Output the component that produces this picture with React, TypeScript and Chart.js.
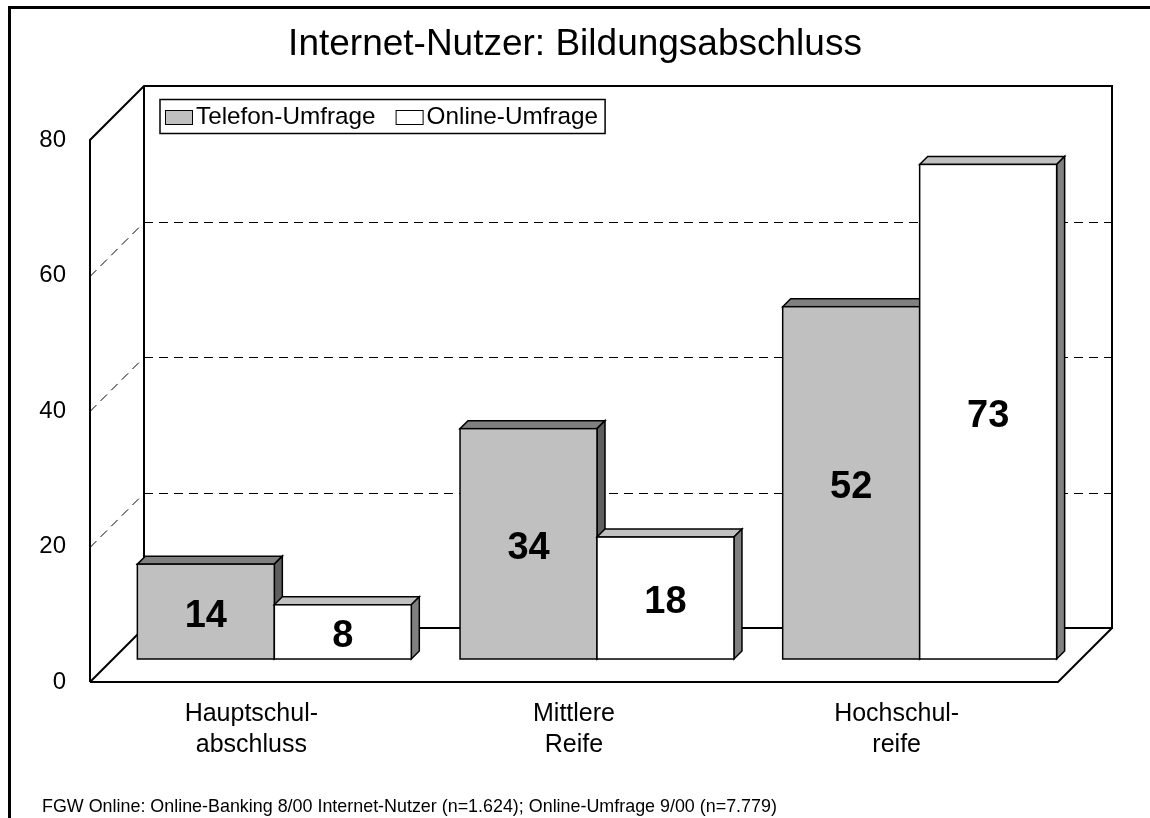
import React, { useEffect, useRef } from 'react';
import { Chart, registerables } from 'chart.js';

Chart.register(...registerables);

const chartTitle = 'Internet-Nutzer: Bildungsabschluss';
const footnote = 'FGW Online: Online-Banking 8/00 Internet-Nutzer (n=1.624); Online-Umfrage 9/00 (n=7.779)';
const categories = [
  ['Hauptschul-', 'abschluss'],
  ['Mittlere', 'Reife'],
  ['Hochschul-', 'reife'],
];
const seriesNames = ['Telefon-Umfrage', 'Online-Umfrage'];
const telefonValues = [14, 34, 52];
const onlineValues = [8, 18, 73];
const yMin = 0;
const yMax = 80;
const yStep = 20;

const FONT = "Arial, 'Liberation Sans', Helvetica, sans-serif";
const WALL = 54;
const BAR_OFF = 23;
const BAR_DEPTH = 8;
const VALUE_SIZE = 38;

const faces = [
  { front: '#c0c0c0', top: '#808080', side: '#5f5f5f' },
  { front: '#ffffff', top: '#c0c0c0', side: '#808080' },
];

const frame3d = {
  id: 'frame3d',
  beforeDatasetsDraw(chart: any) {
    const ctx: CanvasRenderingContext2D = chart.ctx;
    const { left, right, top, bottom } = chart.chartArea;
    const ys = chart.scales.y;
    ctx.save();

    // outer border
    ctx.strokeStyle = '#000';
    ctx.lineWidth = 3;
    ctx.strokeRect(9.5, 7.5, 1300, 1000);

    // title
    ctx.fillStyle = '#000';
    ctx.font = `37px ${FONT}`;
    ctx.textAlign = 'center';
    ctx.textBaseline = 'alphabetic';
    ctx.fillText(chartTitle, 575, 55);

    // footnote
    ctx.font = `17.9px ${FONT}`;
    ctx.textAlign = 'left';
    ctx.fillText(footnote, 42, 812);

    // dashed gridlines (side wall + back wall)
    ctx.lineWidth = 1;
    ctx.strokeStyle = '#000';
    ctx.setLineDash([9, 6]);
    ys.ticks.forEach((t: any) => {
      if (t.value <= yMin || t.value >= yMax) return;
      const y = Math.round(ys.getPixelForValue(t.value)) + 0.5;
      ctx.beginPath();
      ctx.moveTo(left, y);
      ctx.lineTo(left + WALL, y - WALL);
      ctx.moveTo(left + WALL, y - WALL);
      ctx.lineTo(right + WALL, y - WALL);
      ctx.stroke();
    });
    ctx.setLineDash([]);

    // solid frame
    ctx.lineWidth = 2;
    ctx.strokeStyle = '#000';
    ctx.beginPath();
    ctx.moveTo(left, bottom);
    ctx.lineTo(left, top);
    ctx.lineTo(left + WALL, top - WALL);
    ctx.lineTo(right + WALL, top - WALL);
    ctx.lineTo(right + WALL, bottom - WALL);
    ctx.lineTo(left + WALL, bottom - WALL);
    ctx.lineTo(left + WALL, top - WALL);
    ctx.moveTo(left, bottom);
    ctx.lineTo(right, bottom);
    ctx.lineTo(right + WALL, bottom - WALL);
    ctx.moveTo(left, bottom);
    ctx.lineTo(left + WALL, bottom - WALL);
    ctx.stroke();

    // bars
    const metas = chart.data.datasets.map((_: any, i: number) => chart.getDatasetMeta(i));
    const labelsToDraw: any[] = [];
    for (let c = 0; c < categories.length; c++) {
      metas.forEach((meta: any, d: number) => {
        const el = meta.data[c];
        const p = el.getProps(['x', 'y', 'base', 'width'], true);
        const L = p.x - p.width / 2 + BAR_OFF;
        const R = p.x + p.width / 2 + BAR_OFF;
        const T = p.y - BAR_OFF;
        const B = p.base - BAR_OFF;
        const dd = BAR_DEPTH;
        const f = faces[d];
        ctx.lineWidth = 1.5;
        ctx.strokeStyle = '#000';
        ctx.lineJoin = 'miter';
        // top
        ctx.beginPath();
        ctx.moveTo(L, T);
        ctx.lineTo(L + dd, T - dd);
        ctx.lineTo(R + dd, T - dd);
        ctx.lineTo(R, T);
        ctx.closePath();
        ctx.fillStyle = f.top;
        ctx.fill();
        ctx.stroke();
        // side
        ctx.beginPath();
        ctx.moveTo(R, T);
        ctx.lineTo(R + dd, T - dd);
        ctx.lineTo(R + dd, B - dd);
        ctx.lineTo(R, B);
        ctx.closePath();
        ctx.fillStyle = f.side;
        ctx.fill();
        ctx.stroke();
        // front
        ctx.fillStyle = f.front;
        ctx.fillRect(L, T, R - L, B - T);
        ctx.strokeRect(L, T, R - L, B - T);
        const v = chart.data.datasets[d].data[c];
        labelsToDraw.push({ x: (L + R) / 2, y: (T + B) / 2, v });
      });
    }
    ctx.fillStyle = '#000';
    ctx.font = `bold ${VALUE_SIZE}px ${FONT}`;
    ctx.textAlign = 'center';
    ctx.textBaseline = 'alphabetic';
    labelsToDraw.forEach((l) => ctx.fillText(String(l.v), l.x, l.y + VALUE_SIZE * 0.358 + 1.5));

    // legend
    ctx.font = `24.3px ${FONT}`;
    const boxL = 160, boxT = 99.5, boxH = 34;
    const sq = { w: 27, h: 14 };
    let x = 165;
    const items: any[] = [];
    seriesNames.forEach((name, i) => {
      const tw = ctx.measureText(name).width;
      items.push({ name, sx: x, tx: x + sq.w + 4, color: faces[i].front });
      x = x + sq.w + 4 + tw + 20;
    });
    const lastEnd = x - 20 + 7;
    ctx.fillStyle = '#fff';
    ctx.fillRect(boxL, boxT, lastEnd - boxL, boxH);
    ctx.lineWidth = 1.5;
    ctx.strokeStyle = '#000';
    ctx.strokeRect(boxL, boxT, lastEnd - boxL, boxH);
    ctx.textAlign = 'left';
    ctx.textBaseline = 'middle';
    items.forEach((it) => {
      ctx.fillStyle = it.color;
      ctx.fillRect(it.sx, 110, sq.w, sq.h);
      ctx.lineWidth = 1;
      ctx.strokeRect(it.sx + 0.5, 110.5, sq.w, sq.h);
      ctx.fillStyle = '#000';
      ctx.fillText(it.name, it.tx, boxT + boxH / 2 + 1);
    });

    ctx.restore();
    return false;
  },
};

export default function App() {
  const ref = useRef<HTMLCanvasElement | null>(null);
  useEffect(() => {
    if (!ref.current) return;
    const chart = new Chart(ref.current, {
      type: 'bar',
      data: {
        labels: categories,
        datasets: [
          { label: seriesNames[0], data: telefonValues, backgroundColor: faces[0].front },
          { label: seriesNames[1], data: onlineValues, backgroundColor: faces[1].front },
        ],
      },
      options: {
        responsive: false,
        animation: false,
        devicePixelRatio: 1,
        layout: { padding: { top: 140, right: 92, left: 0, bottom: 0 } },
        datasets: { bar: { categoryPercentage: 0.849, barPercentage: 1 } },
        plugins: { legend: { display: false }, title: { display: false }, tooltip: { enabled: false } },
        scales: {
          x: {
            grid: { display: false, drawTicks: false },
            border: { display: false },
            ticks: {
              color: '#000',
              font: { family: FONT, size: 25, lineHeight: 1.22 },
              padding: 17,
              maxRotation: 0,
              autoSkip: false,
            },
            afterFit: (s: any) => { s.height = 136; },
          },
          y: {
            min: yMin,
            max: yMax,
            grid: { display: false, drawTicks: false },
            border: { display: false },
            ticks: {
              stepSize: yStep,
              color: '#000',
              font: { family: FONT, size: 24 },
              padding: 24,
            },
            afterFit: (s: any) => { s.width = 90; },
          },
        },
      },
      plugins: [frame3d],
    });
    return () => chart.destroy();
  }, []);
  return (
    <div style={{ position: 'fixed', left: 0, top: 0, width: 1150, height: 818, background: '#fff' }}>
      <canvas ref={ref} width={1150} height={818} style={{ display: 'block' }} />
    </div>
  );
}
